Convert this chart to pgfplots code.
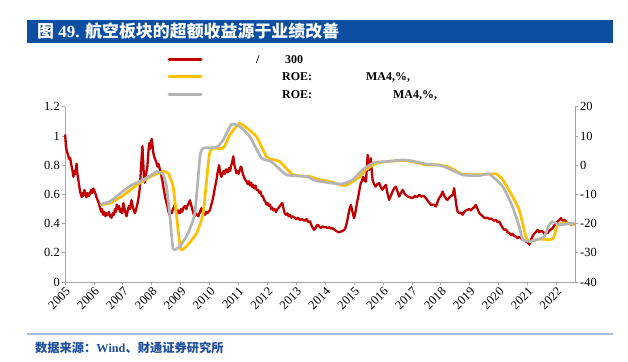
\documentclass[border=0pt]{standalone}
\usepackage{pgfplots}
\pgfplotsset{compat=1.18}
\usepackage{pgfplotstable}
\usepackage{fontspec}
\setmainfont{Liberation Serif}
\newfontfamily\cjk{Noto Sans CJK SC}
\definecolor{cred}{HTML}{C00000}
\definecolor{cyellow}{HTML}{FFC000}
\definecolor{cgray}{HTML}{B4B4B4}
\definecolor{titleblue}{HTML}{0B4EA2}
\definecolor{lineblue}{HTML}{A9BFDF}
\definecolor{srcblue}{HTML}{1F4E9A}
\definecolor{axisgray}{HTML}{A6A6A6}

\pgfplotstableread{
x y
2006.21 -13.6
2006.56 -13.0
2007.00 -10.5
2007.48 -6.8
2008.00 -3.7
2008.40 -2.2
2008.57 -2.8
2008.74 -7.3
2008.86 -17.6
2009.00 -28.7
2009.20 -27.8
2009.55 -23.3
2009.78 -16.4
2009.99 3.5
2010.13 5.8
2010.47 5.8
2010.70 10.3
2011.03 14.3
2011.34 12.3
2011.62 9.8
2011.97 2.9
2012.14 2.0
2012.43 1.2
2012.89 -3.3
2013.47 -3.9
2013.81 -5.0
2014.25 -5.8
2014.60 -7.0
2014.83 -6.4
2015.18 -4.1
2015.41 -1.6
2015.75 0.6
2016.10 1.2
2016.68 1.6
2017.02 1.2
2017.48 0.1
2017.94 0.1
2018.29 -0.7
2018.75 -3.1
2019.33 -3.3
2019.91 -3.0
2020.14 -5.0
2020.48 -10.7
2020.71 -15.3
2020.94 -24.4
2021.06 -26.1
2021.40 -25.3
2021.87 -25.3
2022.04 -20.4
2022.33 -19.8
2022.62 -20.4
}\roeyellow

\pgfplotstableread{
x y
2006.21 -13.4
2006.56 -12.4
2007.00 -9.0
2007.30 -6.8
2007.59 -5.6
2008.00 -3.3
2008.17 -2.2
2008.40 -3.3
2008.51 -7.3
2008.63 -17.6
2008.74 -28.7
2008.97 -27.8
2009.26 -23.3
2009.49 -16.4
2009.67 2.9
2009.78 5.8
2010.24 6.1
2010.47 8.6
2010.76 14.0
2011.05 13.2
2011.39 9.8
2011.80 2.4
2012.14 1.2
2012.66 -3.3
2013.35 -3.9
2013.68 -5.3
2014.25 -6.2
2014.60 -6.4
2014.95 -5.0
2015.29 -1.6
2015.70 0.9
2016.10 1.2
2016.68 1.8
2017.02 1.4
2017.48 0.4
2018.06 -0.3
2018.75 -3.3
2019.33 -3.6
2019.67 -3.0
2020.14 -7.3
2020.48 -14.2
2020.71 -21.0
2020.83 -25.5
2021.06 -26.1
2021.40 -25.3
2021.58 -24.4
2021.75 -20.4
2021.87 -19.3
2022.10 -20.4
2022.62 -19.8
}\roegray

\pgfplotstableread{
x y
2005.00 1.01
2005.02 0.97
2005.03 0.93
2005.06 0.90
2005.09 0.88
2005.12 0.86
2005.15 0.84
2005.18 0.85
2005.21 0.81
2005.23 0.79
2005.26 0.76
2005.29 0.72
2005.32 0.76
2005.35 0.74
2005.38 0.78
2005.40 0.81
2005.43 0.74
2005.46 0.70
2005.49 0.66
2005.52 0.62
2005.55 0.60
2005.58 0.58
2005.61 0.61
2005.64 0.59
2005.67 0.63
2005.70 0.61
2005.74 0.58
2005.78 0.61
2005.82 0.59
2005.86 0.60
2005.90 0.63
2005.94 0.61
2005.98 0.64
2006.02 0.62
2006.06 0.60
2006.09 0.58
2006.13 0.56
2006.17 0.54
2006.21 0.51
2006.25 0.48
2006.28 0.50
2006.32 0.46
2006.36 0.48
2006.40 0.45
2006.44 0.47
2006.48 0.46
2006.52 0.48
2006.56 0.45
2006.61 0.44
2006.65 0.47
2006.69 0.46
2006.73 0.50
2006.76 0.48
2006.79 0.53
2006.83 0.50
2006.87 0.52
2006.90 0.48
2006.94 0.50
2006.98 0.47
2007.02 0.54
2007.06 0.50
2007.10 0.47
2007.13 0.45
2007.17 0.49
2007.21 0.52
2007.25 0.50
2007.30 0.56
2007.34 0.52
2007.38 0.49
2007.42 0.47
2007.46 0.50
2007.50 0.53
2007.53 0.56
2007.56 0.60
2007.59 0.65
2007.62 0.75
2007.65 0.85
2007.68 0.93
2007.70 0.84
2007.73 0.72
2007.76 0.68
2007.79 0.72
2007.82 0.76
2007.85 0.79
2007.88 0.88
2007.91 0.95
2007.94 0.91
2007.97 0.96
2008.00 0.98
2008.03 0.93
2008.05 0.89
2008.08 0.86
2008.12 0.84
2008.16 0.82
2008.20 0.79
2008.23 0.81
2008.27 0.78
2008.31 0.75
2008.34 0.72
2008.38 0.68
2008.42 0.63
2008.46 0.585
2008.50 0.55
2008.54 0.52
2008.57 0.49
2008.61 0.46
2008.65 0.48
2008.69 0.47
2008.73 0.50
2008.77 0.51
2008.80 0.53
2008.84 0.49
2008.88 0.47
2008.92 0.49
2008.97 0.47
2009.01 0.50
2009.05 0.48
2009.10 0.51
2009.15 0.52
2009.20 0.50
2009.25 0.53
2009.29 0.54
2009.32 0.56
2009.36 0.53
2009.40 0.50
2009.44 0.47
2009.48 0.45
2009.52 0.47
2009.56 0.46
2009.61 0.45
2009.65 0.47
2009.69 0.49
2009.72 0.505
2009.76 0.48
2009.80 0.47
2009.84 0.46
2009.88 0.48
2009.92 0.47
2009.96 0.48
2010.01 0.49
2010.05 0.52
2010.09 0.55
2010.13 0.585
2010.17 0.63
2010.20 0.66
2010.24 0.70
2010.27 0.74
2010.30 0.77
2010.33 0.80
2010.36 0.76
2010.39 0.73
2010.41 0.72
2010.45 0.74
2010.49 0.76
2010.53 0.74
2010.56 0.77
2010.59 0.77
2010.63 0.75
2010.67 0.78
2010.71 0.76
2010.74 0.79
2010.78 0.82
2010.82 0.86
2010.86 0.80
2010.90 0.77
2010.93 0.745
2010.97 0.76
2011.01 0.74
2011.05 0.77
2011.08 0.79
2011.11 0.78
2011.15 0.74
2011.19 0.72
2011.23 0.70
2011.28 0.69
2011.32 0.67
2011.36 0.69
2011.40 0.66
2011.44 0.68
2011.48 0.65
2011.51 0.665
2011.55 0.64
2011.59 0.66
2011.63 0.63
2011.68 0.63
2011.72 0.61
2011.76 0.62
2011.80 0.59
2011.85 0.585
2011.89 0.56
2011.93 0.55
2011.97 0.53
2012.01 0.54
2012.05 0.52
2012.09 0.53
2012.13 0.50
2012.17 0.51
2012.20 0.49
2012.25 0.50
2012.30 0.48
2012.35 0.50
2012.40 0.51
2012.43 0.52
2012.47 0.53
2012.52 0.54
2012.56 0.50
2012.60 0.47
2012.64 0.46
2012.69 0.47
2012.74 0.45
2012.78 0.46
2012.83 0.44
2012.88 0.45
2012.94 0.44
2013.00 0.43
2013.06 0.44
2013.12 0.425
2013.18 0.43
2013.24 0.425
2013.30 0.42
2013.36 0.43
2013.41 0.41
2013.47 0.415
2013.52 0.39
2013.57 0.37
2013.62 0.357
2013.67 0.37
2013.72 0.39
2013.76 0.39
2013.79 0.38
2013.85 0.37
2013.91 0.38
2013.97 0.375
2014.02 0.376
2014.08 0.37
2014.14 0.375
2014.20 0.365
2014.25 0.369
2014.31 0.36
2014.37 0.35
2014.42 0.345
2014.48 0.34
2014.54 0.345
2014.60 0.35
2014.66 0.357
2014.70 0.37
2014.74 0.40
2014.77 0.426
2014.80 0.46
2014.84 0.50
2014.89 0.528
2014.93 0.49
2014.97 0.46
2015.00 0.437
2015.04 0.47
2015.08 0.52
2015.12 0.562
2015.16 0.60
2015.20 0.65
2015.23 0.676
2015.27 0.69
2015.31 0.72
2015.35 0.71
2015.38 0.69
2015.41 0.688
2015.44 0.78
2015.47 0.87
2015.49 0.82
2015.52 0.767
2015.55 0.81
2015.58 0.847
2015.61 0.76
2015.64 0.699
2015.69 0.67
2015.75 0.653
2015.80 0.67
2015.87 0.676
2015.92 0.65
2015.98 0.631
2016.04 0.65
2016.10 0.665
2016.15 0.61
2016.21 0.562
2016.27 0.59
2016.33 0.619
2016.38 0.64
2016.44 0.653
2016.50 0.62
2016.56 0.585
2016.62 0.61
2016.68 0.631
2016.76 0.60
2016.85 0.585
2016.93 0.58
2017.02 0.574
2017.10 0.59
2017.17 0.58
2017.25 0.597
2017.32 0.585
2017.40 0.59
2017.48 0.574
2017.57 0.55
2017.66 0.528
2017.75 0.53
2017.83 0.517
2017.89 0.55
2017.94 0.574
2018.00 0.59
2018.06 0.619
2018.12 0.59
2018.18 0.57
2018.23 0.562
2018.30 0.58
2018.36 0.59
2018.41 0.597
2018.46 0.642
2018.50 0.58
2018.54 0.52
2018.58 0.483
2018.64 0.47
2018.70 0.475
2018.75 0.46
2018.81 0.48
2018.87 0.49
2018.92 0.494
2018.98 0.50
2019.04 0.49
2019.10 0.505
2019.15 0.51
2019.21 0.528
2019.27 0.50
2019.33 0.471
2019.39 0.46
2019.45 0.45
2019.50 0.44
2019.56 0.437
2019.62 0.44
2019.68 0.43
2019.74 0.435
2019.79 0.426
2019.85 0.42
2019.91 0.425
2019.96 0.41
2020.02 0.414
2020.08 0.39
2020.14 0.37
2020.19 0.357
2020.25 0.36
2020.31 0.34
2020.37 0.335
2020.43 0.32
2020.48 0.33
2020.54 0.315
2020.60 0.312
2020.66 0.30
2020.71 0.31
2020.77 0.30
2020.83 0.29
2020.88 0.285
2020.94 0.278
2021.00 0.27
2021.03 0.265
2021.06 0.255
2021.10 0.28
2021.14 0.30
2021.17 0.312
2021.22 0.33
2021.28 0.34
2021.35 0.357
2021.40 0.34
2021.46 0.35
2021.52 0.346
2021.58 0.33
2021.63 0.34
2021.69 0.335
2021.75 0.35
2021.81 0.36
2021.87 0.369
2021.93 0.39
2021.98 0.40
2022.04 0.414
2022.10 0.425
2022.15 0.437
2022.21 0.42
2022.27 0.425
2022.33 0.414
2022.39 0.40
2022.45 0.405
2022.50 0.392
2022.56 0.40
2022.62 0.392
}\relative

\begin{document}
\begin{tikzpicture}
\path[use as bounding box] (0,0) rectangle (628bp,-362bp);
% title bar
\fill[titleblue] (27bp,-19.5bp) rectangle (613bp,-42.5bp);
\node[anchor=west, text=white, inner sep=0, font=\fontsize{17}{19}\selectfont\bfseries] at (37bp,-31bp) {{\cjk\bfseries 图} 49. {\cjk\bfseries 航空板块的超额收益源于业绩改善}};
% legend
\draw[cred, line width=3bp, line cap=round] (169bp,-59.3bp) -- (201bp,-59.3bp);
\draw[cyellow, line width=3bp, line cap=round] (169bp,-76.7bp) -- (201bp,-76.7bp);
\draw[cgray, line width=3bp, line cap=round] (169bp,-94.3bp) -- (201bp,-94.3bp);
\begin{scope}[every node/.style={anchor=base west, inner sep=0, font=\fontsize{12}{14}\selectfont\bfseries}]
\node at (256bp,-63.5bp) {/};
\node at (285bp,-63.5bp) {300};
\node at (282bp,-80.9bp) {ROE:};
\node at (366bp,-80.9bp) {MA4,\%,};
\node at (282bp,-98.5bp) {ROE:};
\node at (393bp,-98.5bp) {MA4,\%,};
\end{scope}
% left axis
\begin{axis}[
  at={(65bp,-282bp)}, anchor=south west, scale only axis,
  width=510bp, height=175.3bp,
  xmin=2005, xmax=2022.64, ymin=0, ymax=1.2,
  axis y line*=left, axis x line*=bottom,
  xtick={2005,2006,...,2022},
  ytick={0,0.2,0.4,0.6,0.8,1,1.2},
  yticklabels={0,0.2,0.4,0.6,0.8,1,1.2},
  xticklabel style={rotate=45, anchor=north east, inner sep=1pt, font=\fontsize{12.5}{14}\selectfont},
  yticklabel style={font=\fontsize{12.5}{14}\selectfont, inner sep=2pt},
  /pgf/number format/1000 sep={},
  /pgf/number format/assume math mode=true,
  axis line style={draw=axisgray, line width=0.8bp},
  tick style={draw=axisgray, line width=0.8bp},
  major tick length=3bp, tick align=outside,
  clip=false,
]
\addplot[cred, line width=2.3bp, line join=round] table[x=x,y=y] {\relative};
\end{axis}
% right axis
\begin{axis}[
  at={(65bp,-282bp)}, anchor=south west, scale only axis,
  width=510bp, height=175.3bp,
  xmin=2005, xmax=2022.64, ymin=-40, ymax=20,
  axis y line*=right, axis x line=none,
  ytick={-40,-30,-20,-10,0,10,20},
  yticklabels={-40,-30,-20,-10,0,10,20},
  yticklabel style={font=\fontsize{12.5}{14}\selectfont, inner sep=2pt},
  axis line style={draw=axisgray, line width=0.8bp},
  tick style={draw=axisgray, line width=0.8bp},
  major tick length=3bp, tick align=outside,
  clip=false,
]
\addplot[cyellow, line width=2.7bp, smooth, tension=0.3, line join=round] table[x=x,y=y] {\roeyellow};
\addplot[cgray, line width=2.7bp, smooth, tension=0.3, line join=round] table[x=x,y=y] {\roegray};
\end{axis}
% bottom
\draw[lineblue, line width=1.2bp] (27bp,-334bp) -- (613bp,-334bp);
\node[anchor=west, text=srcblue, inner sep=0, font=\fontsize{12.3}{14}\selectfont\bfseries] at (35bp,-348bp) {{\cjk\bfseries 数据来源：}Wind{\cjk\bfseries 、财通证券研究所}};
\end{tikzpicture}
\end{document}
